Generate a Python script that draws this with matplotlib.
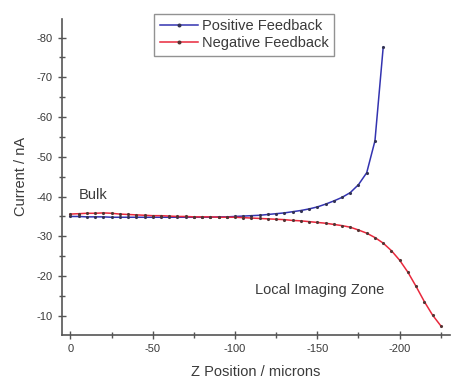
import matplotlib
matplotlib.use("Agg")
import matplotlib.pyplot as plt
from matplotlib.ticker import MultipleLocator

plt.rcParams['font.family'] = ['Liberation Sans', 'DejaVu Sans']
plt.rcParams['axes.unicode_minus'] = False

# z position (microns) and tip current (nA)
z_pos = [0, -5, -10, -15, -20, -25, -30, -35, -40, -45, -50, -55, -60, -65, -70,
         -75, -80, -85, -90, -95, -100, -105, -110, -115, -120, -125, -130, -135,
         -140, -145, -150, -155, -160, -165, -170, -175, -180, -185, -190]
pos_feedback = [-35.0, -35.0, -34.9, -34.9, -34.9, -34.8, -34.8, -34.8, -34.8, -34.8,
                -34.8, -34.8, -34.8, -34.8, -34.8, -34.8, -34.8, -34.8, -34.9, -34.9,
                -35.0, -35.1, -35.2, -35.3, -35.5, -35.7, -35.9, -36.2, -36.5, -36.9,
                -37.4, -38.1, -38.9, -39.8, -41.0, -43.0, -46.0, -54.0, -77.5]

z_neg = [0, -5, -10, -15, -20, -25, -30, -35, -40, -45, -50, -55, -60, -65, -70,
         -75, -80, -85, -90, -95, -100, -105, -110, -115, -120, -125, -130, -135,
         -140, -145, -150, -155, -160, -165, -170, -175, -180, -185, -190, -195,
         -200, -205, -210, -215, -220, -225]
neg_feedback = [-35.6, -35.7, -35.8, -35.8, -35.9, -35.8, -35.6, -35.5, -35.4, -35.3,
                -35.2, -35.2, -35.1, -35.0, -35.0, -34.9, -34.9, -34.9, -34.8, -34.8,
                -34.8, -34.7, -34.6, -34.5, -34.4, -34.3, -34.2, -34.0, -33.9, -33.7,
                -33.5, -33.3, -33.0, -32.7, -32.3, -31.6, -30.8, -29.7, -28.3, -26.4,
                -24.0, -21.0, -17.4, -13.6, -10.2, -7.5]

txt = '#3a3a3a'

fig = plt.figure(figsize=(4.55, 3.85), dpi=100)
ax = fig.add_axes([0.136, 0.130, 0.853, 0.821])

ax.plot(z_pos, pos_feedback, color='#3333b0', lw=1.1, marker='.', ms=2.5,
        mfc='#333355', mec='#333355', label='Positive Feedback')
ax.plot(z_neg, neg_feedback, color='#e8283c', lw=1.1, marker='.', ms=2.5,
        mfc='#553333', mec='#553333', label='Negative Feedback')

ax.set_xlim(5.2, -230.6)
ax.set_ylim(-5.2, -84.7)

ax.xaxis.set_major_locator(MultipleLocator(50))
ax.xaxis.set_minor_locator(MultipleLocator(25))
ax.yaxis.set_major_locator(MultipleLocator(10))
ax.yaxis.set_minor_locator(MultipleLocator(5))

for s in ['top', 'right']:
    ax.spines[s].set_visible(False)
for s in ['left', 'bottom']:
    ax.spines[s].set_color('#555555')
    ax.spines[s].set_linewidth(1.2)

ax.tick_params(which='major', direction='inout', length=6, width=1, color='#555555',
               labelsize=8, labelcolor=txt)
ax.tick_params(which='minor', direction='inout', length=4, width=1, color='#555555')

ax.set_xlabel('Z Position / microns', fontsize=10.5, color=txt, labelpad=8)
ax.set_ylabel('Current / nA', fontsize=10.5, color=txt, labelpad=6)

ax.text(-5, -40.5, 'Bulk', fontsize=10.5, color=txt, ha='left', va='center')
ax.text(-112, -16.5, 'Local Imaging Zone', fontsize=10.5, color=txt, ha='left', va='center')

leg = ax.legend(loc='upper left', bbox_to_anchor=(0.218, 1.04), fontsize=10.5,
                frameon=True, fancybox=False, borderpad=0.4, labelspacing=0.2,
                handlelength=2.6, handletextpad=0.3, numpoints=1, markerscale=1.5)
leg.get_frame().set_edgecolor('#777777')
leg.get_frame().set_linewidth(1.0)
for t in leg.get_texts():
    t.set_color(txt)

fig.savefig('out.png', dpi=100)
